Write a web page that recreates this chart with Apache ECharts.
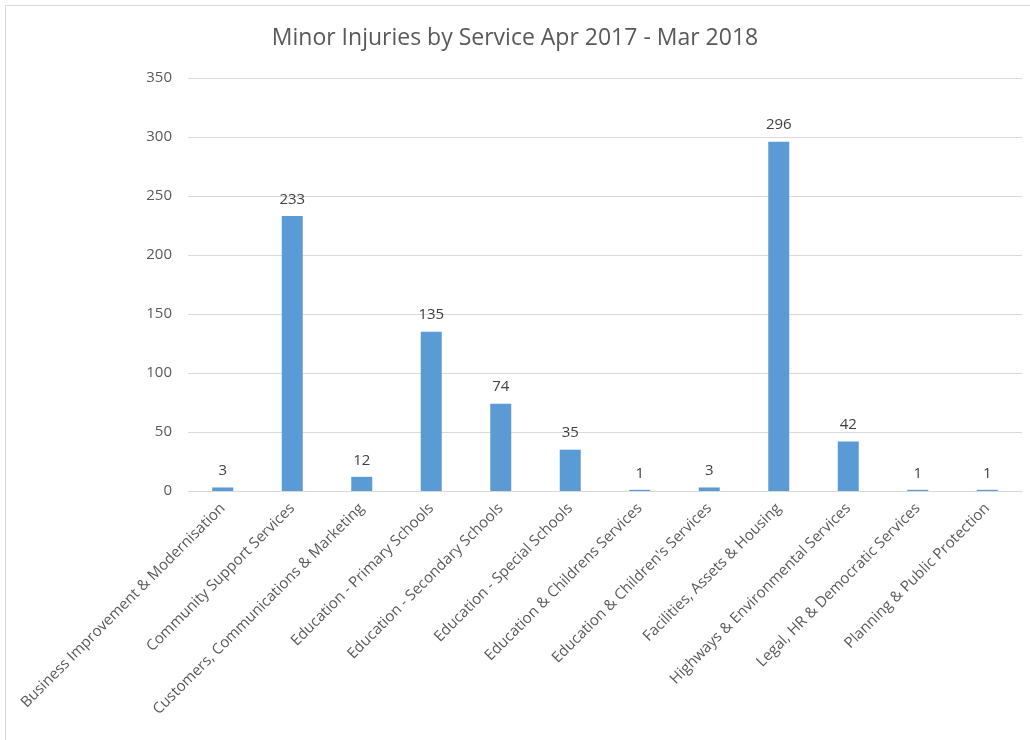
<!DOCTYPE html>
<html><head><meta charset="utf-8">
<script src="https://cdn.jsdelivr.net/npm/echarts@6/dist/echarts.min.js"></script>
<style>html,body{margin:0;padding:0;background:#fff}#c{width:1030px;height:740px}
#frame{position:absolute;left:5px;top:5px;width:1030px;height:760px;border:1.5px solid #d9d9d9;box-sizing:border-box;pointer-events:none}</style>
</head><body><div id="c"></div><div id="frame"></div>
<script>
const categories = [
  "Business Improvement & Modernisation",
  "Community Support Services",
  "Customers, Communications & Marketing",
  "Education - Primary Schools",
  "Education - Secondary Schools",
  "Education - Special Schools",
  "Education & Childrens Services",
  "Education & Children's Services",
  "Facilities, Assets & Housing",
  "Highways & Environmental Services",
  "Legal, HR & Democratic Services",
  "Planning & Public Protection"
];
const injuries = [3, 233, 12, 135, 74, 35, 1, 3, 296, 42, 1, 1];
const yTicks = [0, 50, 100, 150, 200, 250, 300, 350];

const font = "'Open Sans', 'DejaVu Sans', sans-serif";
const chart = echarts.init(document.getElementById('c'));
chart.setOption({
  animation: false,
  backgroundColor: '#fff',
  title: {
    text: 'Minor Injuries by Service Apr 2017 - Mar 2018',
    left: 'center', top: 22,
    textStyle: { fontFamily: font, fontSize: 23, fontWeight: 'normal', color: '#595959' }
  },
  grid: { left: 188, right: 8, top: 78, bottom: 249, containLabel: false },
  xAxis: {
    type: 'category',
    data: categories,
    axisLine: { show: true, lineStyle: { color: '#d9d9d9' } },
    axisTick: { show: false },
    axisLabel: { rotate: 45, interval: 0, margin: 15, fontFamily: font, fontSize: 15, color: '#595959' }
  },
  yAxis: {
    type: 'value',
    min: yTicks[0], max: yTicks[yTicks.length - 1], interval: 50,
    axisLine: { show: false },
    axisTick: { show: false },
    splitLine: { lineStyle: { color: '#d9d9d9' } },
    axisLabel: { margin: 16, fontFamily: font, fontSize: 15, color: '#595959' }
  },
  series: [{
    type: 'bar',
    data: injuries,
    barWidth: 21,
    itemStyle: { color: '#5B9BD5' },
    label: { show: true, position: 'top', distance: 9, fontFamily: font, fontSize: 15, color: '#404040' }
  }]
});
</script></body></html>
